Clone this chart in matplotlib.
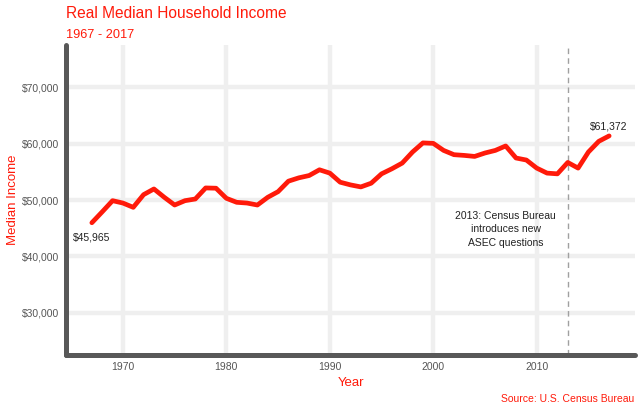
import matplotlib
matplotlib.use("Agg")
import matplotlib.pyplot as plt
import numpy as np

plt.rcParams["font.family"] = ["Liberation Sans", "DejaVu Sans"]

# real median household income, 2017 dollars
years = np.arange(1967, 2018)
income = [45965, 47900, 49880, 49460, 48700, 50950, 51960, 50480, 49110, 49880,
          50180, 52140, 52090, 50300, 49590, 49460, 49110, 50480, 51480, 53340,
          53930, 54340, 55360, 54770, 53160, 52680, 52320, 52980, 54640, 55540,
          56550, 58520, 60130, 60050, 58800, 58040, 57910, 57730, 58340, 58800,
          59590, 57450, 57090, 55660, 54770, 54640, 56660, 55660, 58520, 60410,
          61372]
x_ticks = [1970, 1980, 1990, 2000, 2010]
y_ticks = [30000, 40000, 50000, 60000, 70000]
asec_year = 2013
note = "2013: Census Bureau\nintroduces new\nASEC questions"

RED = "#ff1a0a"
GRID = "#efefef"
AXIS = "#585858"

fig = plt.figure(figsize=(6.4, 4.12), dpi=100)
ax = fig.add_axes([66 / 640, 1 - 355 / 412, (635 - 66) / 640, (355 - 45) / 412])

ax.set_xlim(1964.5, 2019.5)
ax.set_ylim(22500, 77500)
ax.set_xticks(x_ticks)
ax.set_yticks(y_ticks)
ax.set_yticklabels([f"${v:,.0f}" for v in y_ticks])
ax.grid(True, color=GRID, lw=3.2, zorder=0)
ax.set_axisbelow(True)
ax.tick_params(length=0, labelsize=7.5, labelcolor="#555555")
ax.tick_params(axis="y", pad=5)
ax.tick_params(axis="x", pad=5)

for s in ("top", "right"):
    ax.spines[s].set_visible(False)
for s in ("left", "bottom"):
    ax.spines[s].set_color(AXIS)
    ax.spines[s].set_linewidth(3.6)
    ax.spines[s].set_capstyle("round")

ax.axvline(asec_year, color="#a0a0a0", lw=1, ls=(0, (4, 3)), zorder=1)
ax.plot(years, income, color=RED, lw=3.4, solid_capstyle="round",
        solid_joinstyle="round", zorder=3)

ax.annotate(f"${income[0]:,}", (years[0], income[0]), xytext=(0, -7),
            textcoords="offset points", ha="center", va="top",
            fontsize=7.5, color="#222222")
ax.annotate(f"${income[-1]:,}", (years[-1], income[-1]), xytext=(0, 3),
            textcoords="offset points", ha="center", va="bottom",
            fontsize=7.5, color="#222222")
ax.text(2007, 44800, note, ha="center", va="center", fontsize=7.5,
        color="#222222", linespacing=1.45)

ax.set_xlabel("Year", color=RED, fontsize=9.5, labelpad=4)
ax.set_ylabel("Median Income", color=RED, fontsize=9.5, labelpad=2)

fig.text(66 / 640, 1 - 18.5 / 412, "Real Median Household Income",
         color=RED, fontsize=11.2, ha="left", va="baseline")
fig.text(66 / 640, 1 - 37.8 / 412, "1967 - 2017",
         color=RED, fontsize=9.2, ha="left", va="baseline")
fig.text(634 / 640, 1 - 399 / 412, "Source: U.S. Census Bureau",
         color=RED, fontsize=7.5, ha="right", va="center")

fig.savefig("out.png", dpi=100)
